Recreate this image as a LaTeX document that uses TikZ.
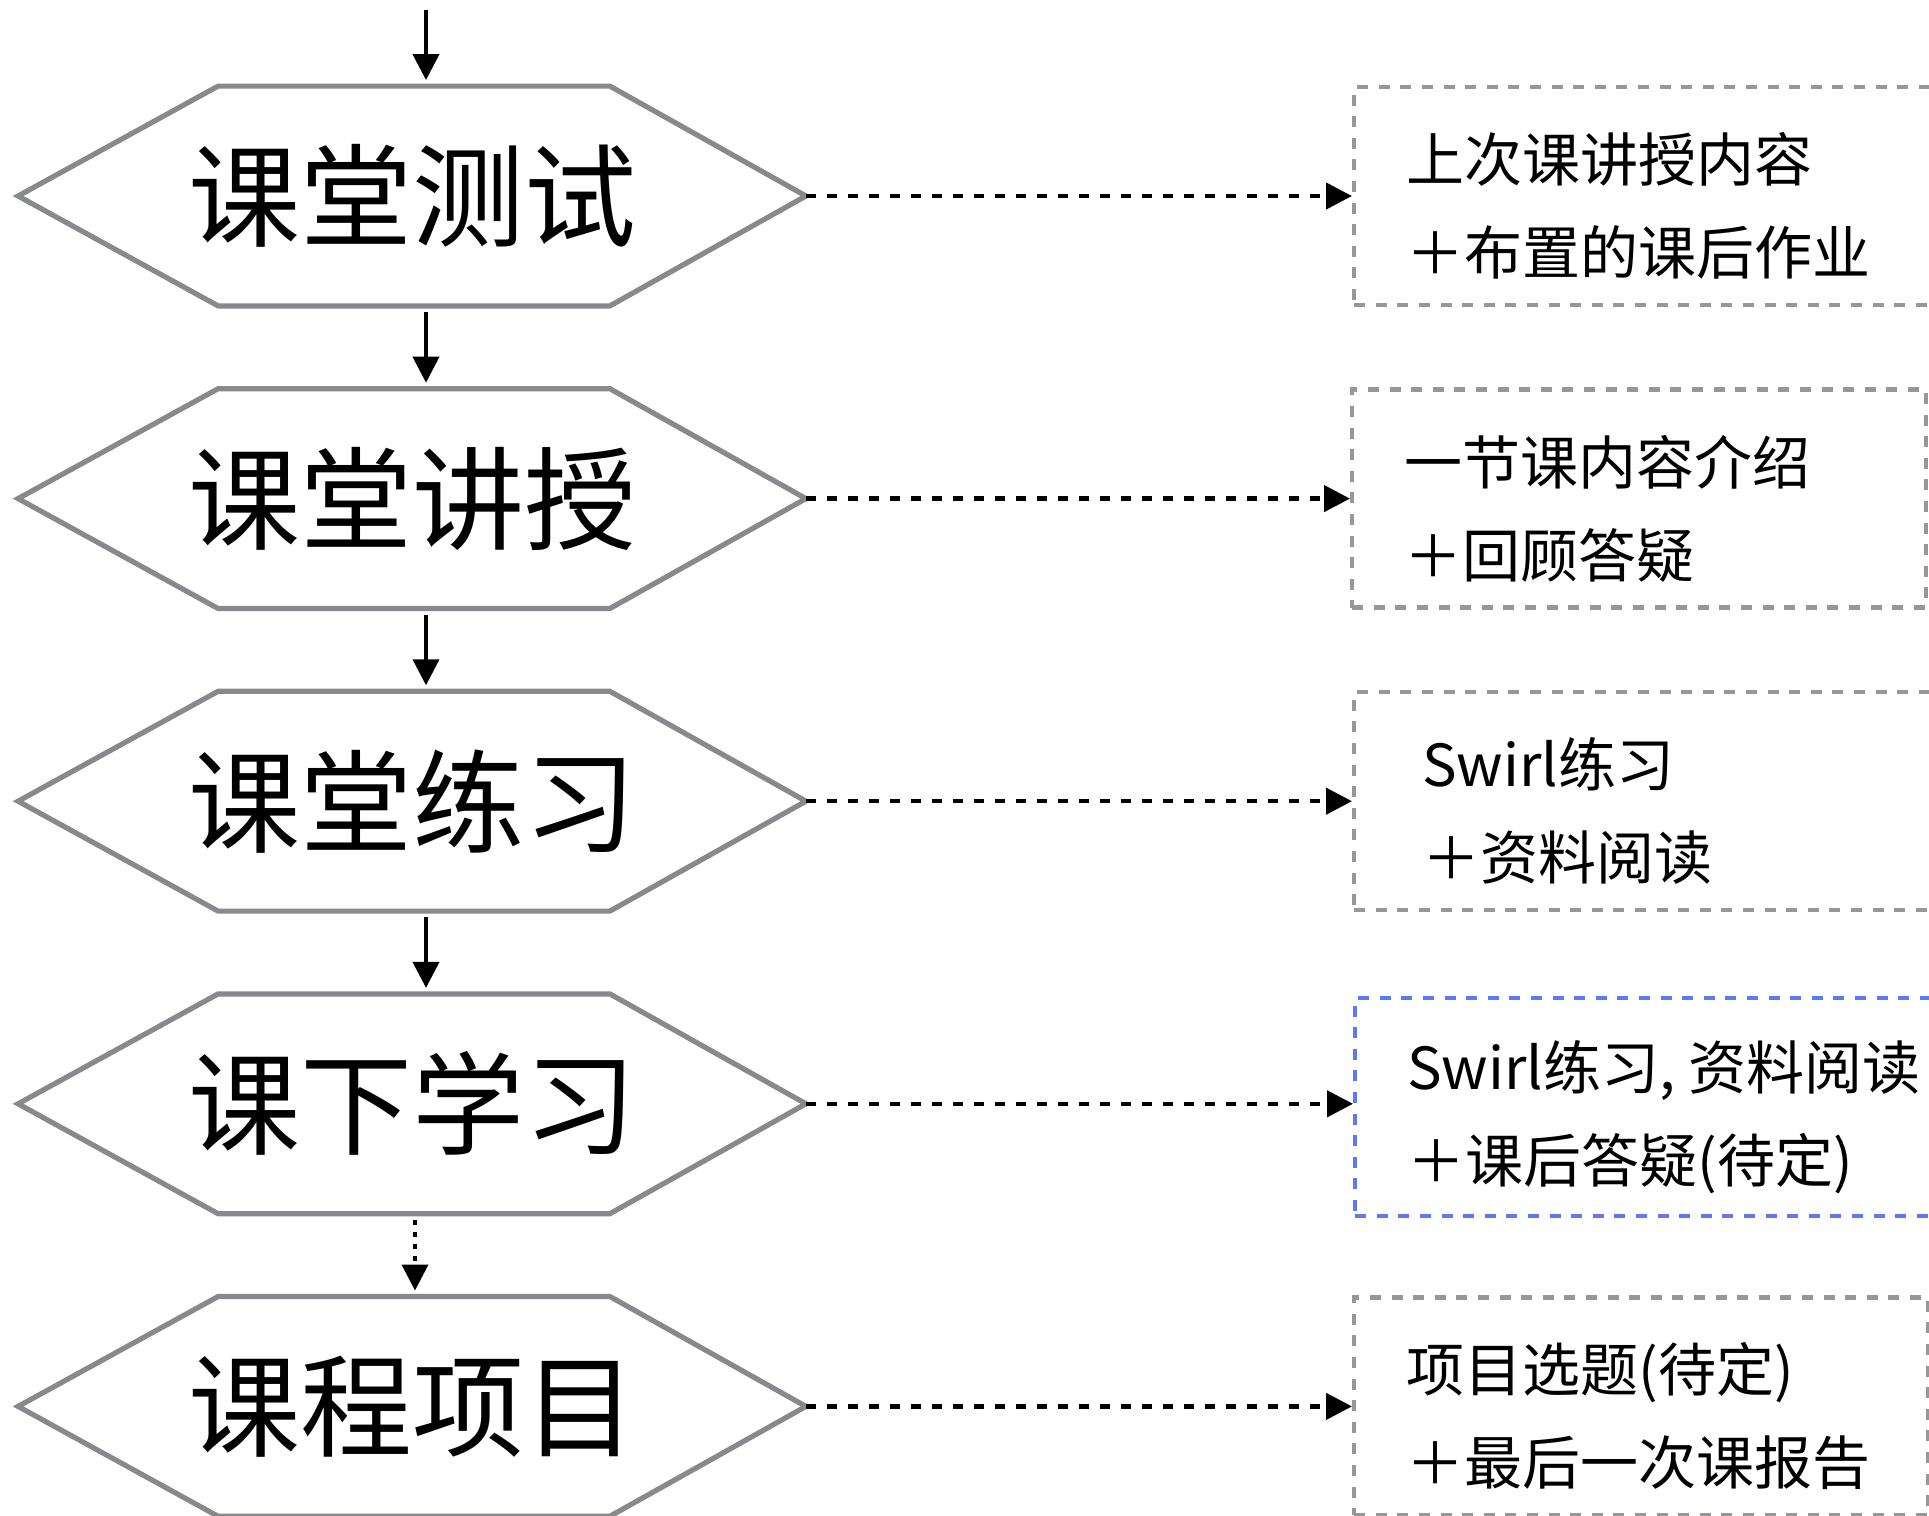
\documentclass[tikz,border=0pt]{standalone}
\usepackage{fontspec}
\setmainfont{Noto Sans CJK SC}
\usetikzlibrary{arrows.meta}
\definecolor{hexgray}{RGB}{136,137,140}
\definecolor{boxgray}{RGB}{150,151,155}
\definecolor{boxblue}{RGB}{92,122,246}
\begin{document}
\begin{tikzpicture}[x=0.5pt,y=-0.5pt,
    hexa/.style={minimum width=393.5pt,minimum height=109.5pt,inner sep=0pt,font=\fontsize{56}{60}\selectfont},
    hexline/.style={draw=hexgray,line width=2.6pt,line join=miter},
    note/.style={draw=boxgray,line width=2.2pt,dash pattern=on 5.5pt off 5.3pt,minimum height=109pt,inner sep=0pt,anchor=west},
    notetext/.style={anchor=west,inner sep=0pt,align=left,font=\fontsize{29}{46.5}\selectfont},
    flow/.style={line width=2pt,-{Triangle[width=13pt,length=13pt]}},
    link/.style={flow,line width=2.2pt,dash pattern=on 5pt off 5.5pt}]
  \useasboundingbox (0,0) rectangle (1929,1516);
  \clip (0,0) rectangle (1929,1516);
  % steps
  \node[hexa] (test) at (412,196) {课堂测试};
  \node[hexa] (lecture) at (412,498.6) {课堂讲授};
  \node[hexa] (practice) at (412,801.2) {课堂练习};
  \node[hexa] (self) at (412,1103.8) {课下学习};
  \node[hexa] (project) at (412,1406.4) {课程项目};
  \foreach \n in {test,lecture,practice,self,project}
    \draw[hexline] ([xshift=100pt]\n.north west) -- ([xshift=-98pt]\n.north east) -- (\n.east)
      -- ([xshift=-98pt]\n.south east) -- ([xshift=100pt]\n.south west) -- (\n.west) -- cycle;
  % notes
  \node[note,minimum width=300pt] (testnote) at (1352,196) {};
  \node[note,minimum width=287pt] (lecturenote) at (1350,498.6) {};
  \node[note,minimum width=300pt] (practicenote) at (1352,801.2) {};
  \node[note,draw=boxblue,minimum width=300pt] (selfnote) at (1353,1107) {};
  \node[note,minimum width=287pt] (projectnote) at (1352,1406.4) {};
  \node[notetext] (testtxt) at ([xshift=27pt,yshift=-5pt]testnote.west) {上次课讲授内容\\＋布置的课后作业};
  \node[notetext] (lecturetxt) at ([xshift=27pt,yshift=-5pt]lecturenote.west) {一节课内容介绍\\＋回顾答疑};
  \node[notetext] (practicetxt) at ([xshift=35pt,yshift=-5pt]practicenote.west) {Swirl练习\\＋资料阅读};
  \node[notetext] (selftxt) at ([xshift=27pt,yshift=-5pt]selfnote.west) {Swirl练习, 资料阅读\\＋课后答疑(待定)};
  \node[notetext] (projecttxt) at ([xshift=27pt,yshift=-5pt]projectnote.west) {项目选题(待定)\\＋最后一次课报告};
  % arrows
  \coordinate (start) at (426,10);
  \draw[flow,shorten >=3pt] (start) -- ([xshift=7pt]test.north);
  \foreach \a/\b in {test/lecture,lecture/practice,practice/self}
    \draw[flow,shorten <=3pt,shorten >=3pt] ([xshift=7pt]\a.south) -- ([xshift=7pt]\b.north);
  \draw[flow,dash pattern=on 2.5pt off 3.5pt,shorten <=3pt,shorten >=3pt] ([xshift=1.5pt]self.south) -- ([xshift=1.5pt]project.north);
  \draw[link] (test.east) -- (test.east -| testnote.west);
  \draw[link] (lecture.east) -- (lecture.east -| lecturenote.west);
  \draw[link] (practice.east) -- (practice.east -| practicenote.west);
  \draw[link] (self.east) -- (self.east -| selfnote.west);
  \draw[link] (project.east) -- (project.east -| projectnote.west);
\end{tikzpicture}
\end{document}
